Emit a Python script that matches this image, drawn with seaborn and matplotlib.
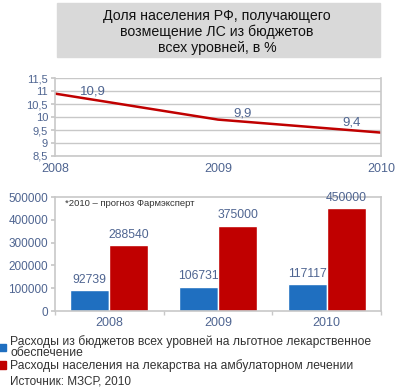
import matplotlib
matplotlib.use("Agg")
import matplotlib.pyplot as plt
import matplotlib.patches as mpatches
import pandas as pd
import seaborn as sns

years = [2008, 2009, 2010]
share_pct = [10.9, 9.9, 9.4]
share_labels = ["10,9", "9,9", "9,4"]
budget_spend = [92739, 106731, 117117]
population_spend = [288540, 375000, 450000]
series_names = [
    "Расходы из бюджетов всех уровней на льготное лекарственное\nобеспечение",
    "Расходы населения на лекарства на амбулаторном лечении",
]
line_yticks = [8.5, 9, 9.5, 10, 10.5, 11, 11.5]
bar_yticks = [0, 100000, 200000, 300000, 400000, 500000]

TICK_COLOR = "#4f6591"
BLUE = "#1f6fc0"
RED = "#c00000"
GRID = "#c8c8c8"
TEXT = "#333333"

sns.set_theme(style="white")
plt.rcParams["font.family"] = ["Liberation Sans", "DejaVu Sans"]

W, H = 398, 389
fig = plt.figure(figsize=(W / 100, H / 100), dpi=100)


def box(x0, y0, x1, y1):
    # pixel box (top-left origin) -> figure fraction rect
    return [x0 / W, 1 - y1 / H, (x1 - x0) / W, (y1 - y0) / H]


# title panel
fig.patches.append(mpatches.Rectangle((57 / W, 1 - 57 / H), 323 / W, 54 / H,
                                      transform=fig.transFigure, color="#d9d9d9", zorder=0))
fig.text(217 / W, 1 - 32 / H,
         "Доля населения РФ, получающего\nвозмещение ЛС из бюджетов\nвсех уровней, в %",
         ha="center", va="center", fontsize=10.2, color="#111111", linespacing=1.12)

# line chart
line_df = pd.DataFrame({"year": years, "share": share_pct})
ax1 = fig.add_axes(box(55, 78, 381, 156))
sns.lineplot(data=line_df, x="year", y="share", color=RED, linewidth=1.8, ax=ax1)
ax1.set_xlim(years[0], years[-1])
ax1.set_ylim(line_yticks[0], line_yticks[-1])
ax1.set_yticks(line_yticks)
ax1.set_yticklabels([f"{v:g}".replace(".", ",") for v in line_yticks])
ax1.set_xticks(years)
ax1.set_xticklabels([str(y) for y in years])
ax1.yaxis.grid(True, color=GRID, linewidth=1)
ax1.set_xlabel("")
ax1.set_ylabel("")
ax1.spines["top"].set_visible(False)
for s in ["left", "right", "bottom"]:
    ax1.spines[s].set_color(GRID)
    ax1.spines[s].set_linewidth(1.2)
ax1.tick_params(axis="y", colors=TICK_COLOR, labelsize=8, length=3, color=GRID, left=True, pad=2)
ax1.tick_params(axis="x", colors=TICK_COLOR, labelsize=9, length=0, pad=5)
offsets = [(27, -3), (18, 0), (-21, 3)]
for x, y, lab, off in zip(years, share_pct, share_labels, offsets):
    ax1.annotate(lab, (x, y), xytext=off, textcoords="offset points",
                 ha="center", va="bottom", fontsize=9.5, color=TICK_COLOR)

# bar chart
bar_df = pd.DataFrame({
    "year": [str(y) for y in years] * 2,
    "value": budget_spend + population_spend,
    "series": [series_names[0]] * 3 + [series_names[1]] * 3,
})
ax2 = fig.add_axes(box(55, 197, 381, 311))
sns.barplot(data=bar_df, x="year", y="value", hue="series", palette=[BLUE, RED],
            width=0.72, saturation=1, ax=ax2, legend=False)
ax2.set_ylim(0, 500000)
ax2.set_yticks(bar_yticks)
ax2.set_xlim(-0.5, 2.5)
ax2.set_xlabel("")
ax2.set_ylabel("")
for s in ax2.spines.values():
    s.set_color(GRID)
    s.set_linewidth(1.2)
ax2.tick_params(axis="y", colors=TICK_COLOR, labelsize=8.5, length=3, color=GRID, left=True, pad=2)
ax2.tick_params(axis="x", colors=TICK_COLOR, labelsize=9, length=0, pad=4)
ax2.set_xticks([-0.5, 0.5, 1.5, 2.5], minor=True)
ax2.tick_params(axis="x", which="minor", length=3, color=GRID, bottom=True)
for cont in ax2.containers:
    ax2.bar_label(cont, fmt="%d", padding=3, fontsize=8.8, color=TICK_COLOR)
ax2.text(0.03, 0.94, "*2010 – прогноз Фармэксперт", transform=ax2.transAxes,
         fontsize=6.8, color=TEXT, va="center")

# legend and source
handles = [mpatches.Patch(color=BLUE), mpatches.Patch(color=RED)]
leg = fig.legend(handles, series_names, loc="upper left", bbox_to_anchor=(-0.002, 1 - 335 / H),
                 frameon=False, fontsize=8.7, handlelength=0.6, handleheight=0.6,
                 handletextpad=0.3, labelspacing=0.0, borderaxespad=0, borderpad=0,
                 labelcolor=TEXT)
for t in leg.get_texts():
    t.set_linespacing(0.95)
fig.text(10 / W, 1 - 381 / H, "Источник: МЗСР, 2010", fontsize=8.5, color=TEXT, va="center")

fig.savefig("out.png", dpi=100)
